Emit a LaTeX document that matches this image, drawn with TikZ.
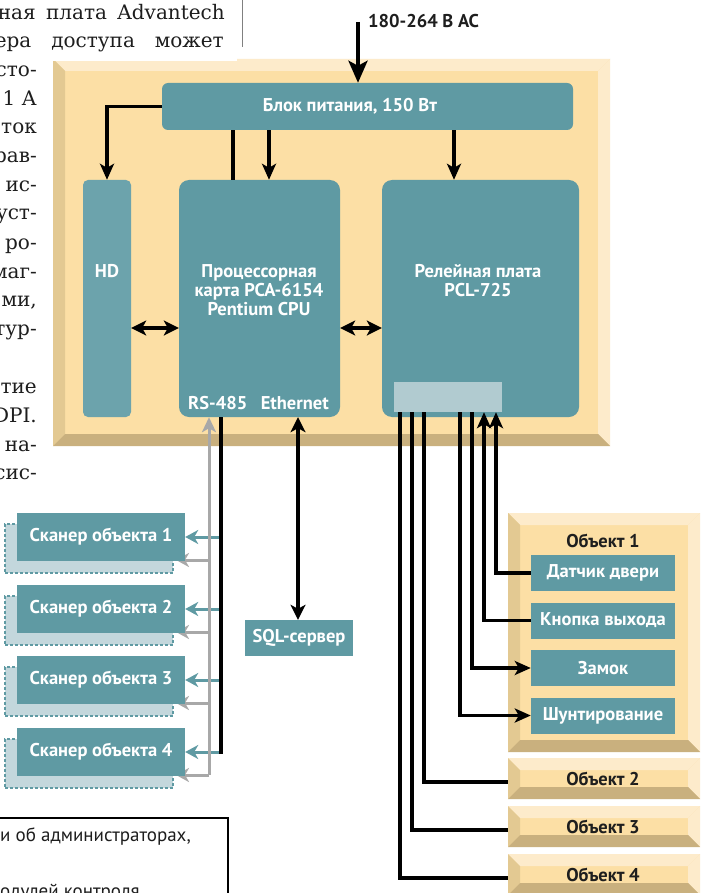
\documentclass[tikz,border=0pt]{standalone}
\usepackage{fontspec}
\setmainfont{PT Sans}
\newfontfamily\magserif{DejaVu Serif}
\usetikzlibrary{arrows.meta}
\definecolor{tealc}{HTML}{5F9AA3}
\definecolor{tealhd}{HTML}{6CA3AC}
\definecolor{portc}{HTML}{B1CBD0}
\definecolor{shadc}{HTML}{C3D7DC}
\definecolor{frmain}{HTML}{FCDFA5}
\definecolor{frlight}{HTML}{FDEBCB}
\definecolor{frleft}{HTML}{E3C992}
\definecolor{frbottom}{HTML}{C9B07E}
\definecolor{grayln}{HTML}{A8A8A8}
\definecolor{inkc}{HTML}{1E1E1E}
\newcommand\bevelframe[5]{%
  \fill[frmain] (#1,#2) rectangle (#3,#4);
  \fill[frlight] (#1,#2) -- (#3,#2) -- (#3-#5,#2+#5) -- (#1+#5,#2+#5) -- cycle;
  \fill[frlight] (#3,#2) -- (#3,#4) -- (#3-#5,#4-#5) -- (#3-#5,#2+#5) -- cycle;
  \fill[frleft] (#1,#2) -- (#1+#5,#2+#5) -- (#1+#5,#4-#5) -- (#1,#4) -- cycle;
  \fill[frbottom] (#1,#4) -- (#1+#5,#4-#5) -- (#3-#5,#4-#5) -- (#3,#4) -- cycle;
}
\tikzset{
  lbl/.style={font=\bfseries\fontsize{18.5}{19}\selectfont, inner sep=0, align=center},
  whitelbl/.style={lbl, text=white},
  blacklbl/.style={lbl, text=inkc},
  tealbox/.style={fill=tealc, inner sep=0, text=white, font=\bfseries\fontsize{18.5}{19}\selectfont, align=center},
  shadowbox/.style={fill=shadc, draw=tealc, line width=1.2pt, dash pattern=on 3pt off 2pt, inner sep=0},
  framenode/.style={inner sep=0},
  wire/.style={draw=black, line width=3.5pt},
  arr/.style={wire, -{Stealth[length=16pt,width=14pt,inset=4pt]}},
  bigarr/.style={wire, line width=4pt, -{Stealth[length=22pt,width=19pt,inset=5pt]}},
  dblarr/.style={wire, {Stealth[length=15pt,width=15pt,inset=4pt]}-{Stealth[length=15pt,width=15pt,inset=4pt]}},
  tealarr/.style={draw=tealc, line width=3pt, -{Stealth[length=13pt,width=14pt,inset=4pt]}},
  grayarr/.style={draw=grayln, line width=3pt, -{Stealth[length=13pt,width=14pt,inset=4pt]}},
  graywire/.style={draw=grayln, line width=3pt},
  magtext/.style={font=\magserif\fontsize{20}{28}\selectfont, text=inkc, inner sep=0},
  bottext/.style={font=\fontsize{19}{20}\selectfont, text=inkc, anchor=base west, inner sep=0},
}
\begin{document}
\begin{tikzpicture}[x=1pt,y=-1pt]
\useasboundingbox (0,0) rectangle (704,893);
\fill[white] (0,0) rectangle (704,893);

% main frame
\bevelframe{53}{59}{610}{446}{12}
\fill[white] (0,0) rectangle (237,61);
\draw[gray, line width=0.8pt] (242,0) -- (242,47);

% magazine text
\node[magtext, anchor=base east] (m1) at (225,20) {\makebox[227pt][s]{ная плата Advantech}};
\node[magtext, anchor=base east] (m2) at (224,48) {\makebox[229pt][s]{ера доступа может}};
\foreach \t/\yy [count=\k] in {сто-/77, 1 А/106, ток/134, рав-/163, ис-/192, уст-/220, ро-/249, маг-/278, {ми,}/306, тур-/335, тие/393, DPI./422, на-/451, сис-/479}
  \node[magtext, anchor=base east] (mt\k) at (37,\yy) {\t};

% power supply
\node[tealbox, rounded corners=6pt, minimum width=411pt, minimum height=47pt] (psu) at (367.5,106.5) {};
\node[whitelbl] (psulbl) at (350,106) {Блок питания, 150 Вт};
\coordinate (acin) at (358,22);
\node[blacklbl, anchor=west] (aclbl) at (368,21) {180-264 В АС};

% HD, CPU, relay
\node[fill=tealhd, rounded corners=5pt, minimum width=48pt, minimum height=237pt, inner sep=0] (hd) at (107,298.5) {};
\node[whitelbl] (hdlbl) at (107,271) {HD};
\node[tealbox, rounded corners=10pt, minimum width=161pt, minimum height=237pt] (cpu) at (259.5,298.5) {};
\node[whitelbl] (cpulbl) at (259,290) {Процессорная\\карта PCA-6154\\Pentium CPU};
\node[whitelbl, anchor=west] (rslbl) at (188,403) {RS-485};
\node[whitelbl, anchor=east] (ethlbl) at (329,403) {Ethernet};
\node[tealbox, rounded corners=10pt, minimum width=197pt, minimum height=237pt] (relay) at (480.5,298.5) {};
\node[whitelbl] (relaylbl) at (478,280.5) {Релейная плата\\PCL-725};
\node[fill=portc, minimum width=108pt, minimum height=30pt, inner sep=0] (port) at (448,397) {};

% power connections
\draw[bigarr] (acin) -- (acin |- psu.north);
\draw[arr] (psu.west) -| (hd.north);
\draw[wire] (psu.south -| 233,0) -- (cpu.north -| 233,0);
\draw[arr] (psu.south -| 269,0) -- (cpu.north -| 269,0);
\draw[arr] (psu.south -| 454,0) -- (relay.north -| 454,0);
\draw[dblarr] (hd.east |- 0,328) -- (cpu.west |- 0,328);
\draw[dblarr] (cpu.east |- 0,328) -- (relay.west |- 0,328);

% SQL server
\node[tealbox, minimum width=108pt, minimum height=36pt] (sql) at (299,638) {SQL-сервер};
\draw[dblarr] (cpu.south -| 298,0) -- (sql.north -| 298,0);

% scanners
\foreach \i/\yy in {1/537,2/609,3/680,4/752}{
  \node[shadowbox, minimum width=168pt, minimum height=49pt] (sh\i) at (89,\yy+11.5) {};
  \draw[grayarr] (209,\yy+23) -- (176,\yy+23);
  \node[tealbox, minimum width=168pt, minimum height=48pt] (sc\i) at (101,\yy) {Сканер объекта \i};
  \draw[tealarr] (221,\yy) -- (sc\i.east);
}
\draw[graywire, -{Stealth[length=15pt,width=14pt,inset=4pt]}] (209,775) -- (cpu.south -| 209,0);
\draw[wire] (cpu.south -| 221,0) -- (221,753.5);

% objects
\node[framenode, minimum width=192pt, minimum height=239pt] (obj1) at (604,632.5) {};
\bevelframe{508}{513}{700}{752}{12}
\node[blacklbl] (obj1lbl) at (603,541) {Объект 1};
\node[tealbox, minimum width=144pt, minimum height=36pt] (dat) at (603,573) {Датчик двери};
\node[tealbox, minimum width=144pt, minimum height=36pt] (btn) at (603,620.5) {Кнопка выхода};
\node[tealbox, minimum width=144pt, minimum height=36pt] (lock) at (603,668) {Замок};
\node[tealbox, minimum width=144pt, minimum height=36pt] (shunt) at (603,715.5) {Шунтирование};

\node[framenode, minimum width=192pt, minimum height=41pt] (obj2) at (604,778.5) {};
\bevelframe{508}{758}{700}{799}{12}
\node[blacklbl] (obj2lbl) at (603,779) {Объект 2};
\node[framenode, minimum width=192pt, minimum height=41pt] (obj3) at (604,826.5) {};
\bevelframe{508}{806}{700}{847}{12}
\node[blacklbl] (obj3lbl) at (603,827) {Объект 3};
\node[framenode, minimum width=192pt, minimum height=41pt] (obj4) at (604,874.5) {};
\bevelframe{508}{854}{700}{895}{12}
\node[blacklbl] (obj4lbl) at (603,875) {Объект 4};

% relay connections
\draw[arr] (dat.west) -| (port.south -| 496,0);
\draw[arr] (btn.west) -| (port.south -| 484,0);
\draw[arr] (port.south -| 472,0) |- (lock.west);
\draw[arr] (port.south -| 460,0) |- (shunt.west);
\draw[wire] (port.south -| 424,0) |- (obj2.west |- 0,782);
\draw[wire] (port.south -| 412,0) |- (obj3.west |- 0,830);
\draw[wire] (port.south -| 400,0) |- (obj4.west |- 0,878);

% bottom-left boxed text
\draw[black, line width=2.5pt] (0,818) -- (228,818) -- (228,893);
\node[bottext] (bt1) at (0,841) {и об администраторах,};
\node[bottext] (bt2) at (0,897) {одулей контроля};
\end{tikzpicture}
\end{document}
